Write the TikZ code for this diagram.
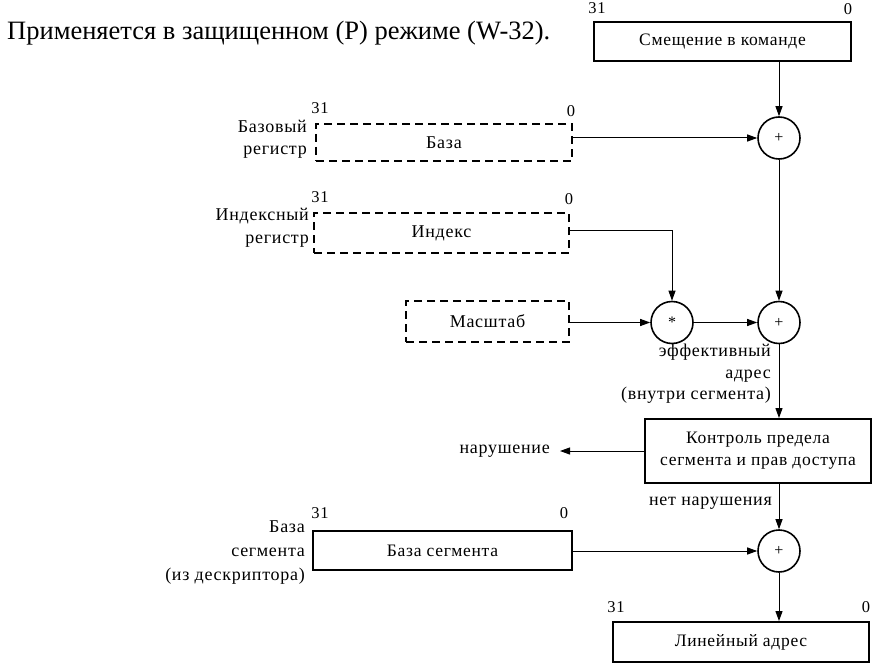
\documentclass[tikz,border=0pt]{standalone}
\usepackage{fontspec}
\setmainfont{Liberation Serif}
\newfontfamily\widefont[LetterSpace=4]{Liberation Serif}
\usetikzlibrary{arrows.meta}
\begin{document}
\begin{tikzpicture}[x=1pt,y=-1pt,
  solidbox/.style={draw,line width=1.9pt,minimum width=#1,inner sep=0pt,font=\widefont\fontsize{17.5}{19}\selectfont},
  dashbox/.style={draw,line width=1.9pt,dash pattern=on 8pt off 5pt,minimum width=#1,inner sep=0pt,font=\widefont\fontsize{18}{19}\selectfont},
  opnode/.style={draw,circle,line width=1.6pt,minimum size=42pt,inner sep=0pt,font=\fontsize{16}{17}\selectfont},
  arr/.style={-{Triangle[length=10pt,width=7pt]},line width=1pt},
  bitlbl/.style={font=\widefont\fontsize{16.5}{17}\selectfont,inner sep=0pt},
  sidelbl/.style={font=\widefont\fontsize{18}{22.5}\selectfont,align=right,inner sep=0pt},
  ]
\useasboundingbox (0,0) rectangle (873,666);
\node[anchor=west,inner sep=0pt,font=\fontsize{26.5}{29}\selectfont] (title) at (7,33) {Применяется в защищенном (P) режиме (W-32).};

% displacement
\node[solidbox=257pt,minimum height=39pt] (disp) at (722.5,41.5) {Смещение в команде};
\node[bitlbl] (d31) at (597,8) {31};
\node[bitlbl] (d0) at (848,9) {0};

% plus 1
\node[opnode] (p1) at (779,138) {+};

% base
\node[dashbox=256pt,minimum height=37pt] (base) at (444,142.5) {База};
\node[bitlbl] (b31) at (320,108) {31};
\node[bitlbl] (b0) at (571,111) {0};
\node[sidelbl,anchor=east] (blbl) at (307,139.5) {Базовый\\регистр};

% index
\node[dashbox=255pt,minimum height=40pt] (idx) at (441.5,233) {Индекс};
\node[bitlbl] (i31) at (320,197) {31};
\node[bitlbl] (i0) at (569,199) {0};
\node[sidelbl,anchor=east] (ilbl) at (309,228) {Индексный\\регистр};

% scale
\node[dashbox=163pt,minimum height=41pt] (scale) at (487.5,321.5) {Масштаб};
\node[opnode] (star) at (672,322.5) {*};
\node[opnode] (p2) at (779,322.5) {+};
\node[sidelbl,anchor=north east,font=\widefont\fontsize{18}{21.5}\selectfont] (eff) at (771,344) {эффективный\\адрес\\(внутри сегмента)};

% check
\node[draw,line width=1.9pt,minimum width=226pt,minimum height=64pt,inner sep=0pt,align=center,font=\widefont\fontsize{17.5}{22}\selectfont] (chk) at (758,451) {Контроль предела\\сегмента и прав доступа};
\node[anchor=east,inner sep=0pt,font=\widefont\fontsize{18}{19}\selectfont] (viol) at (550,451) {нарушение};
\node[anchor=east,inner sep=0pt,font=\widefont\fontsize{18}{19}\selectfont] (noviol) at (772,503) {нет нарушения};

% segment base
\node[solidbox=259pt,minimum height=39pt] (seg) at (442.5,550.5) {База сегмента};
\node[bitlbl] (s31) at (320,513) {31};
\node[bitlbl] (s0) at (564,513) {0};
\node[sidelbl,anchor=east,font=\widefont\fontsize{18}{24}\selectfont] (slbl) at (305,553) {База\\сегмента\\(из дескриптора)};
\node[opnode] (p3) at (779,551) {+};

% linear
\node[solidbox=256pt,minimum height=40pt] (lin) at (741,642) {Линейный адрес};
\node[bitlbl] (l31) at (616,607) {31};
\node[bitlbl] (l0) at (866,607) {0};

% connectors
\draw[arr] (p1 |- disp.south) -- (p1.north);
\draw[arr] (base.east |- p1) -- (p1.west);
\draw[arr] (p1.south) -- (p2.north);
\draw[arr] ([yshift=3pt]idx.east) -| (star.north);
\draw[arr] (scale.east |- star) -- (star.west);
\draw[arr] (star.east) -- (p2.west);
\draw[arr] (p2.south) -- (p2 |- chk.north);
\draw[arr] (chk.west) -- ([xshift=10pt]viol.east);
\draw[arr] (p2 |- chk.south) -- (p3.north);
\draw[arr] (seg.east |- p3) -- (p3.west);
\draw[arr] (p3.south) -- (p3 |- lin.north);
\end{tikzpicture}
\end{document}
